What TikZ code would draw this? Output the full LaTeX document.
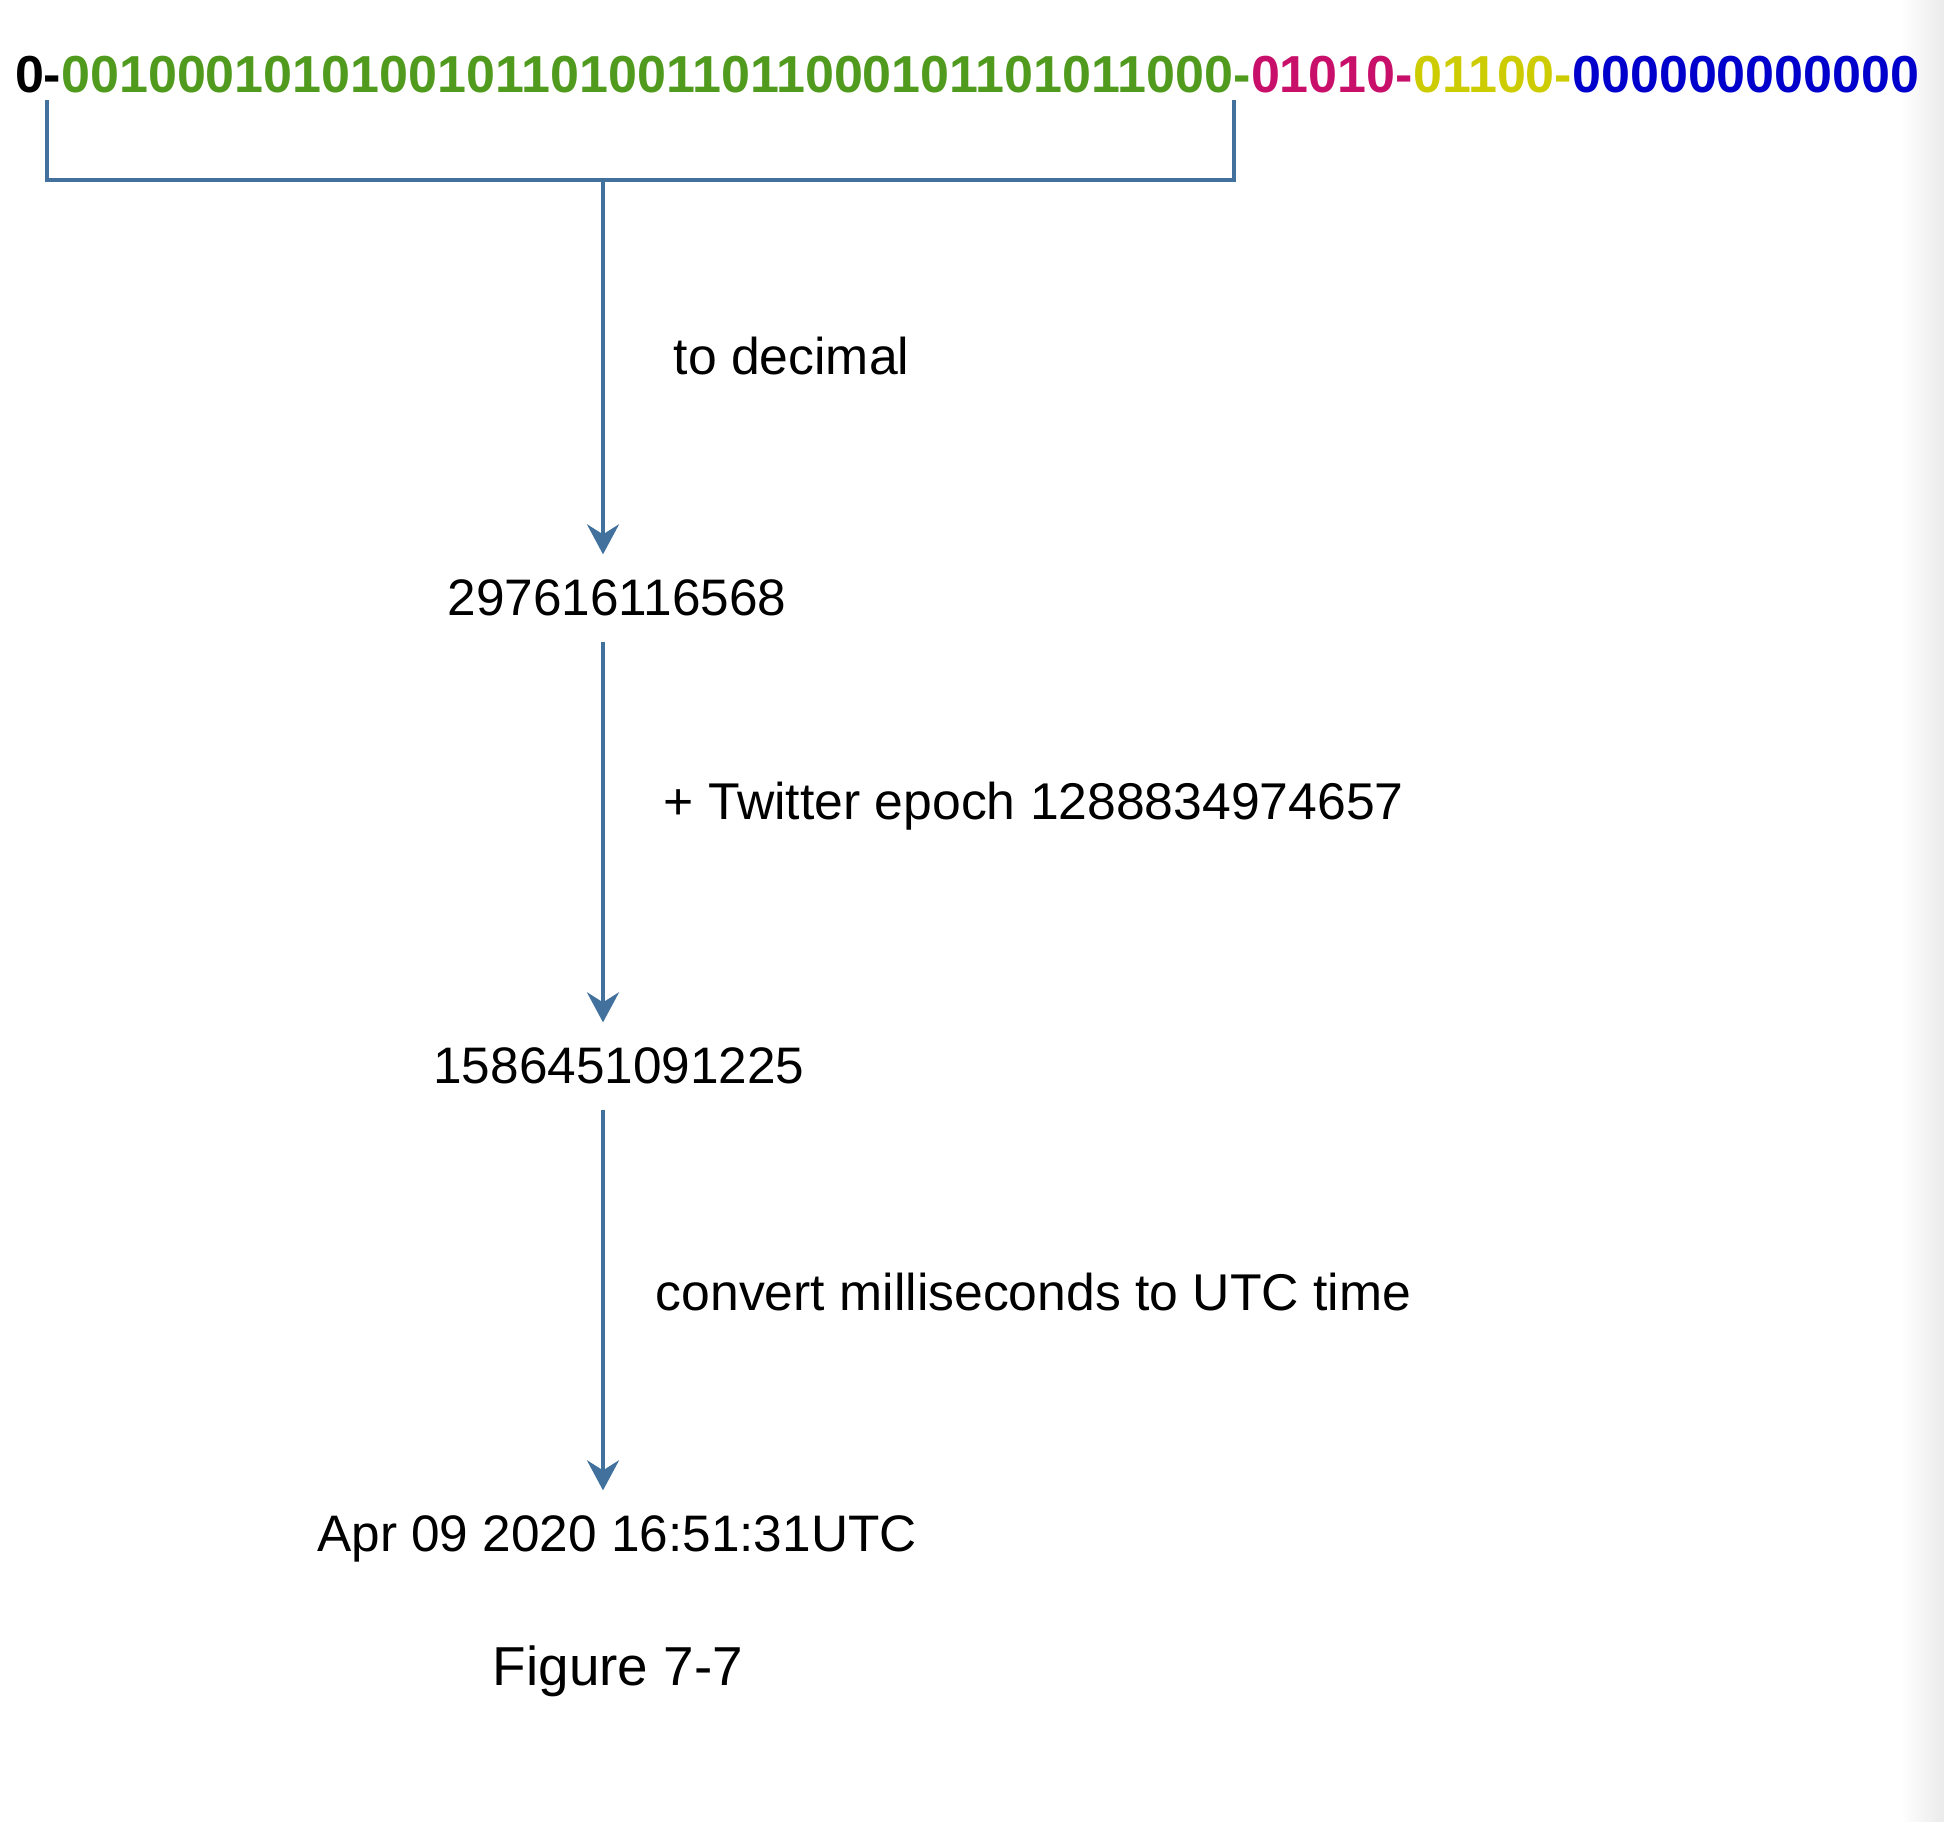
\documentclass[tikz,border=0pt]{standalone}
\usepackage{fontspec}
\setmainfont{Liberation Sans}
\usetikzlibrary{arrows.meta,positioning}

\definecolor{flowblue}{RGB}{65,113,156}
\definecolor{tsgreen}{RGB}{80,155,30}
\definecolor{dcred}{RGB}{200,16,106}
\definecolor{mcyellow}{RGB}{204,204,0}
\definecolor{seqblue}{RGB}{0,0,204}

\begin{document}
\begin{tikzpicture}[x=0.01cm,y=-0.01cm,>={Stealth[length=3mm,width=3.2mm,inset=1mm]},
		bits/.style={font=\fontsize{14.8}{17}\selectfont\bfseries, inner sep=0pt, outer sep=0pt},
		val/.style={font=\fontsize{14.6}{17}\selectfont, text depth=0pt, inner sep=2.5mm},
		note/.style={font=\fontsize{14.7}{17}\selectfont, anchor=west, inner sep=0pt},
		flow/.style={draw=flowblue, line width=1.05pt},]
	\useasboundingbox (0,0) rectangle (1944,1822);
	\shade[left color=white, right color=black!8] (1900,0) rectangle (1944,1822);

	% the id, split in its parts
	\node[bits, anchor=base west] (sgn) at (15,93) {0-};
	\node[bits, text=tsgreen, base right=0pt of sgn] (ts) {00100010101001011010011011000101101011000};
	\node[bits, text=tsgreen, base right=0pt of ts] (d1) {-};
	\node[bits, text=dcred, base right=0pt of d1] (dc) {01010-};
	\node[bits, text=mcyellow, base right=0pt of dc] (mc) {01100-};
	\node[bits, text=seqblue, base right=0pt of mc] (seq) {000000000000};

	\node[val] (dec) at (617,598) {297616116568};
	\node[val] (ms) at (619,1066) {1586451091225};
	\node[val] (utc) at (617,1534) {Apr 09 2020 16:51:31UTC};
	\node[font=\fontsize{15.6}{18}\selectfont] (fig) at (618,1671) {Figure 7-7};

	\coordinate (bl) at ([xshift=-1.4mm, yshift=-0.6mm]ts.south west);
	\coordinate (br) at ([yshift=-0.6mm]ts.south east);
	\coordinate (mid) at (603,180);
	\draw[flow] (bl) |- (mid) -| (br);

	\draw[flow, ->] (mid) -- (mid |- dec.north);
	\node[note] (l1) at (673,356) {to decimal};

	\draw[flow, ->] (mid |- dec.south) -- (mid |- ms.north);
	\node[note] (l2) at (663,806) {+ Twitter epoch 1288834974657};

	\draw[flow, ->] (mid |- ms.south) -- (mid |- utc.north);
	\node[note] (l3) at (655,1292) {convert milliseconds to UTC time};
\end{tikzpicture}
\end{document}
